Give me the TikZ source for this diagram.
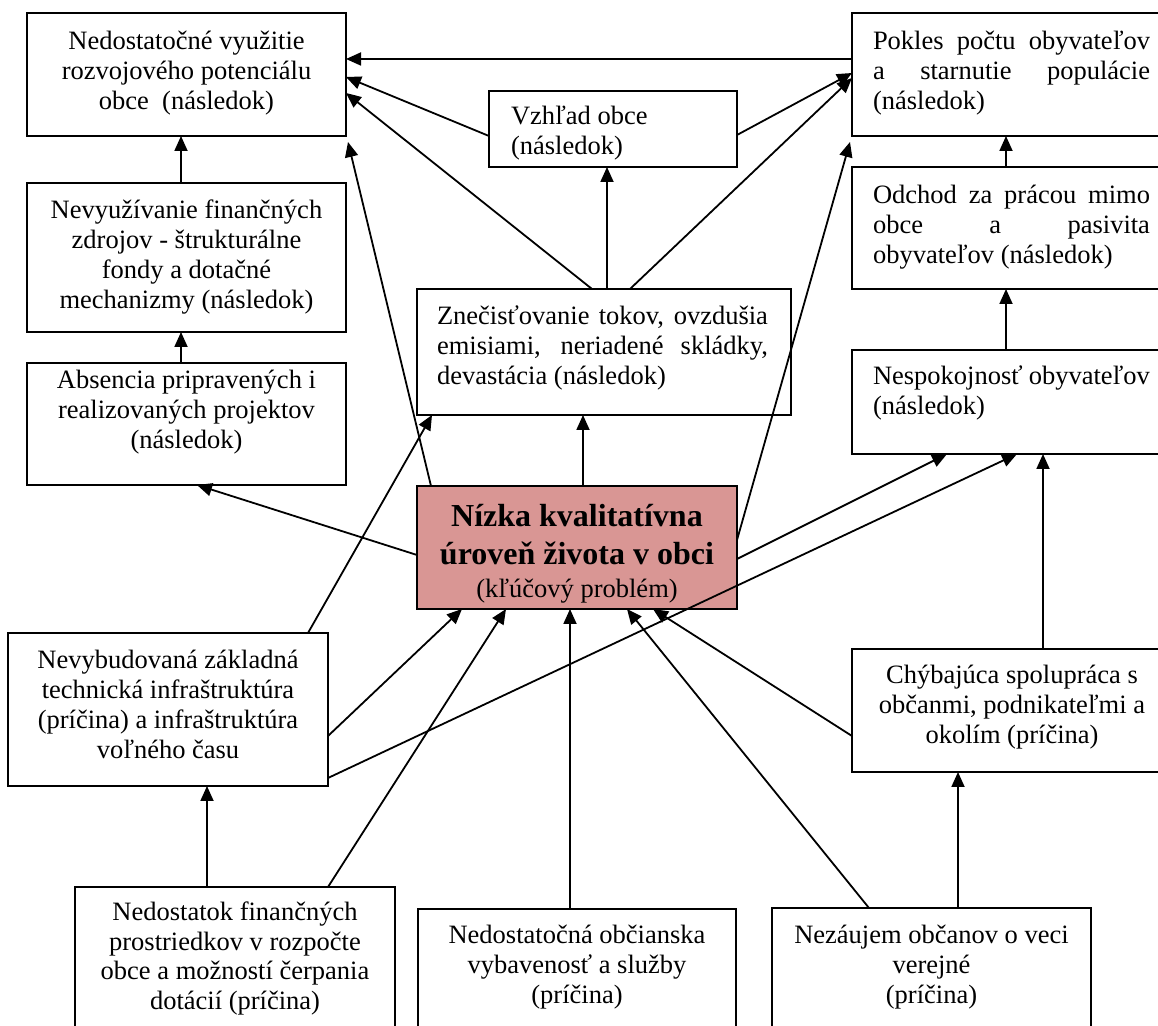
\documentclass[tikz,border=0pt]{standalone}
\usepackage{fontspec}
\setmainfont{Liberation Serif}
\usetikzlibrary{arrows.meta,calc}
\definecolor{keyred}{RGB}{217,150,148}
\newcommand{\boxtext}[4]{\parbox[c][#2][t]{#1}{\vspace*{#3}#4}}

\begin{document}
\begin{tikzpicture}[x=0.5pt,y=-0.5pt,
	plainbox/.style={draw,line width=1pt,inner sep=0pt,outer sep=0pt,anchor=north west,font=\fontsize{13.25}{15}\selectfont},
	keybox/.style={plainbox,fill=keyred},
	arr/.style={-{Triangle[length=7.5pt,width=6.5pt]},line width=0.9pt}]
	\useasboundingbox (0,0) rectangle (1158,1026);
	\clip (0,0) rectangle (1158,1026);

	\node[plainbox] (vyuz) at (27,13) {\boxtext{159.5pt}{61.5pt}{8pt}{\centering\strut Nedostatočné využitie\\ rozvojového potenciálu\\ obce~ (následok)}};
	\node[plainbox] (zdroje) at (27,183) {\boxtext{159.5pt}{74.5pt}{7.5pt}{\centering\strut Nevyužívanie finančných\\ zdrojov - štrukturálne\\ fondy a dotačné\\ mechanizmy (následok)}};
	\node[plainbox] (projekty) at (27,363) {\boxtext{159.5pt}{61pt}{2.5pt}{\centering\strut Absencia pripravených i\\ realizovaných projektov\\ (následok)}};
	\node[plainbox] (vzhlad) at (489,91) {\boxtext{124pt}{38pt}{6.5pt}{\raggedright\leftskip=11pt\strut Vzhľad obce\\ (následok)}};
	\node[plainbox] (pokles) at (852,13) {\boxtext{160pt}{61.5pt}{8pt}{\raggedright\leftskip=10.5pt\strut\makebox[138.5pt][s]{Pokles počtu obyvateľov}\\ \makebox[138.5pt][s]{a starnutie populácie}\\ (následok)}};
	\node[plainbox] (odchod) at (852,167) {\boxtext{160pt}{61pt}{8pt}{\raggedright\leftskip=10.5pt\strut\makebox[138.5pt][s]{Odchod za prácou mimo}\\ \makebox[138.5pt][s]{obce a pasivita}\\ obyvateľov (následok)}};
	\node[plainbox] (znecist) at (417,289) {\boxtext{187pt}{63pt}{7.5pt}{\raggedright\leftskip=10pt\strut\makebox[165.5pt][s]{Znečisťovanie tokov, ovzdušia}\\ \makebox[165.5pt][s]{emisiami, neriadené skládky,}\\ devastácia (následok)}};
	\node[plainbox] (nespok) at (852,350) {\boxtext{160pt}{52pt}{7pt}{\raggedright\leftskip=10.5pt\strut\makebox[138.5pt][s]{Nespokojnosť obyvateľov}\\ (následok)}};
	\node[keybox] (klucovy) at (417,486) {\boxtext{160pt}{61.5pt}{7pt}{\centering{\fontsize{16}{19}\selectfont\bfseries\strut Nízka kvalitatívna\\ úroveň života v obci\par}\vspace{1.5pt}\strut(kľúčový problém)}};
	\node[plainbox] (infra) at (8,633) {\boxtext{160pt}{76.5pt}{7.5pt}{\centering\strut Nevybudovaná základná\\ technická infraštruktúra\\ (príčina) a infraštruktúra\\ voľného času}};
	\node[plainbox] (spolup) at (852,649) {\boxtext{160pt}{61.5pt}{7pt}{\centering\strut Chýbajúca spolupráca s\\ občanmi, podnikateľmi a\\ okolím (príčina)}};
	\node[plainbox] (financie) at (75,887) {\boxtext{160pt}{80pt}{6pt}{\centering\strut Nedostatok finančných\\ prostriedkov v rozpočte\\ obce a možností čerpania\\ dotácií (príčina)}};
	\node[plainbox] (vybav) at (418,909) {\boxtext{159pt}{70pt}{6.5pt}{\centering\strut Nedostatočná občianska\\ vybavenosť a služby\\ (príčina)}};
	\node[plainbox] (nezaujem) at (772,908) {\boxtext{159.5pt}{70pt}{7pt}{\centering\strut Nezáujem občanov o veci\\ verejné\\ (príčina)}};

	\draw[arr] ($(pokles.west)+(0,-15.5)$) -- ($(vyuz.east)+(0,-15.5)$);
	\draw[arr] ($(vzhlad.west)+(0,7)$) -- ($(vyuz.east)+(0,2.5)$);
	\draw[arr] ($(znecist.north)+(-12,0)$) -- ($(vyuz.east)+(0,18.5)$);
	\draw[arr] ($(klucovy.north)+(-146,0)$) -- ($(vyuz.south east)+(2,6)$);
	\draw[arr] ($(zdroje.north)+(-5.5,0)$) -- ($(vyuz.south)+(-5.5,0)$);
	\draw[arr] ($(projekty.north)+(-5.5,0)$) -- ($(zdroje.south)+(-5.5,0)$);
	\draw[arr] ($(klucovy.west)+(0,7.5)$) -- ($(projekty.south)+(10.5,0)$);
	\draw[arr] ($(znecist.north)+(3,0)$) -- ($(vzhlad.south)+(-6,0)$);
	\draw[arr] ($(znecist.north)+(26,0)$) -- ($(pokles.west)+(0,3.5)$);
	\draw[arr] ($(vzhlad.east)+(0,6)$) -- ($(pokles.west)+(0,-1.5)$);
	\draw[arr] ($(klucovy.east)+(0,-7.5)$) -- ($(pokles.south west)+(-2,6)$);
	\draw[arr] ($(klucovy.north)+(6,0)$) -- ($(znecist.south)+(-21,0)$);
	\draw[arr] ($(infra.north)+(140,0)$) -- ($(znecist.south west)+(15,0)$);
	\draw[arr] ($(infra.east)+(0,26.5)$) -- ($(klucovy.south)+(-115,0)$);
	\draw[arr] ($(financie.north)+(93,0)$) -- ($(klucovy.south)+(-71,0)$);
	\draw[arr] ($(vybav.north)+(-7,0)$) -- ($(klucovy.south)+(-7,0)$);
	\draw[arr] ($(nezaujem.north)+(-62.5,0)$) -- ($(klucovy.south)+(50,0)$);
	\draw[arr] ($(spolup.west)+(0,25.5)$) -- ($(klucovy.south)+(76,0)$);
	\draw[arr] ($(financie.north)+(-28,0)$) -- ($(infra.south)+(39,0)$);
	\draw[arr] ($(nezaujem.north)+(26.5,0)$) -- ($(spolup.south)+(-54,0)$);
	\draw[arr] ($(spolup.north)+(31,0)$) -- ($(nespok.south)+(31,0)$);
	\draw[arr] ($(klucovy.east)+(0,11.5)$) -- ($(nespok.south)+(-65,0)$);
	\draw[arr] ($(infra.east)+(0,68.5)$) -- ($(nespok.south)+(5,0)$);
	\draw[arr] ($(nespok.north)+(-6,0)$) -- ($(odchod.south)+(-6,0)$);
	\draw[arr] ($(odchod.north)+(-6,0)$) -- ($(pokles.south)+(-6,0)$);
\end{tikzpicture}
\end{document}
